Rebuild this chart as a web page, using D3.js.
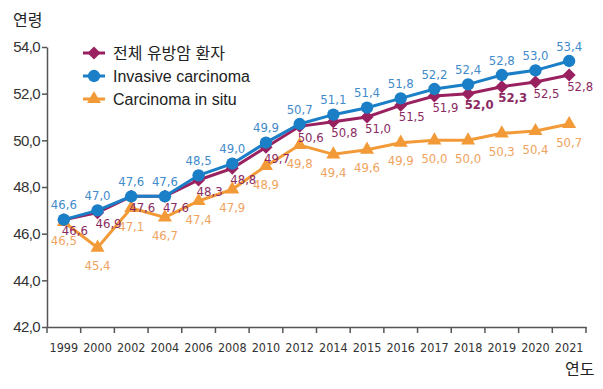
<!DOCTYPE html>
<html>
<head>
<meta charset="utf-8">
<script src="https://cdn.jsdelivr.net/npm/d3@7"></script>
<style>
  body { margin: 0; background: #fff; }
  svg { display: block; }
</style>
</head>
<body>
<svg id="canvas" width="603" height="389"></svg>
<script>
let years = ["1999","2000","2002","2004","2006","2008","2010","2012","2014","2015","2016","2017","2018","2019","2020","2021"]
let totalValues = [46.6, 46.9, 47.6, 47.6, 48.3, 48.8, 49.7, 50.6, 50.8, 51.0, 51.5, 51.9, 52.0, 52.3, 52.5, 52.8]
let invasiveValues = [46.6, 47.0, 47.6, 47.6, 48.5, 49.0, 49.9, 50.7, 51.1, 51.4, 51.8, 52.2, 52.4, 52.8, 53.0, 53.4]
let insituValues = [46.5, 45.4, 47.1, 46.7, 47.4, 47.9, 48.9, 49.8, 49.4, 49.6, 49.9, 50.0, 50.0, 50.3, 50.4, 50.7]
let boldTotal = ["2018", "2019"]
let yTicks = [42, 44, 46, 48, 50, 52, 54]
let seriesNames = ["전체 유방암 환자", "Invasive carcinoma", "Carcinoma in situ"]

let narrow = "'DejaVu Sans Condensed', 'Liberation Sans Narrow', Arial, sans-serif"
let fmt = (v) => v.toFixed(1).replace(".", ",")

let canvas = d3.select("#canvas")

let xScale = d3.scaleBand().domain(years).range([47, 586])
let yScale = d3.scaleLinear().domain([42, 54]).range([327, 47])
let cx = (d) => xScale(d) + xScale.bandwidth() / 2

// axes
let yAxis = d3.axisLeft(yScale).tickValues(yTicks).tickSizeInner(5).tickSizeOuter(0).tickFormat(fmt)
let gy = canvas.append("g").attr("transform", "translate(47,0)").call(yAxis)
gy.select(".domain").attr("stroke", "#555").attr("stroke-width", 1.5)
gy.selectAll(".tick line").attr("stroke", "#555").attr("stroke-width", 1.5)
gy.selectAll(".tick text").attr("x", -7).attr("fill", "#333")
    .style("font-family", "'Liberation Sans', Arial, sans-serif").style("font-size", "15px").style("letter-spacing", "-0.6px")

let xAxis = d3.axisBottom(xScale).tickSize(0).tickSizeOuter(0)
let gx = canvas.append("g").attr("transform", "translate(0,327)").call(xAxis)
gx.select(".domain").attr("stroke", "#555").attr("stroke-width", 1.5)
gx.selectAll(".tick text").attr("y", 16).attr("fill", "#333")
    .style("font-family", narrow).style("font-size", "12.5px")

// band-edge ticks
let edges = years.map((d) => xScale(d)).concat([xScale.range()[1]])
gx.selectAll(".edge").data(edges).enter().append("line")
    .attr("class", "edge")
    .attr("x1", (d) => d).attr("x2", (d) => d)
    .attr("y1", 0).attr("y2", 6)
    .attr("stroke", "#555").attr("stroke-width", 1.5)

canvas.append("text").attr("x", 13).attr("y", 26).text("연령")
    .attr("fill", "#222").style("font-family", "'Noto Sans CJK KR', sans-serif").style("font-size", "16px")
canvas.append("text").attr("x", 565).attr("y", 375).text("연도")
    .attr("fill", "#222").style("font-family", "'Noto Sans CJK KR', sans-serif").style("font-size", "16px")

let series = [
    { name: seriesNames[2], values: insituValues, color: "#f39a38", label: "#f0a35e", shape: d3.symbolTriangle, size: 85, rot: 0, dx: 0, dy: 18 },
    { name: seriesNames[0], values: totalValues, color: "#9a2160", label: "#8b2a62", shape: d3.symbolSquare, size: 85, rot: 45, dx: 11, dy: 11 },
    { name: seriesNames[1], values: invasiveValues, color: "#1a7fc6", label: "#3f8bcb", shape: d3.symbolCircle, size: 120, rot: 0, dx: 0, dy: -15 }
]

let line = d3.line().x((d) => cx(d.year)).y((d) => yScale(d.value))

series.forEach((s) => {
    let pts = years.map((y, i) => ({ year: y, value: s.values[i] }))
    canvas.append("path").datum(pts)
        .attr("d", line).attr("fill", "none")
        .attr("stroke", s.color).attr("stroke-width", 3)
    canvas.selectAll(null).data(pts).enter().append("path")
        .attr("d", d3.symbol().type(s.shape).size(s.size))
        .attr("transform", (d) => "translate(" + cx(d.year) + "," + yScale(d.value) + ") rotate(" + s.rot + ")")
        .attr("fill", s.color)
})

series.forEach((s) => {
    let pts = years.map((y, i) => ({ year: y, value: s.values[i] }))
    canvas.selectAll(null).data(pts).enter().append("text")
        .attr("x", (d) => cx(d.year) + s.dx)
        .attr("y", (d) => yScale(d.value) + s.dy)
        .attr("dy", "0.35em")
        .attr("text-anchor", "middle")
        .attr("fill", s.label)
        .style("font-family", narrow)
        .style("font-size", "13px")
        .style("font-weight", (d) => s.name === seriesNames[0] && boldTotal.includes(d.year) ? "bold" : "normal")
        .text((d) => fmt(d.value))
})

// legend
let legendOrder = [series[1], series[2], series[0]]
let legend = canvas.append("g").attr("transform", "translate(83,53)")
legendOrder.forEach((s, i) => {
    let row = legend.append("g").attr("transform", "translate(0," + (i * 23) + ")")
    row.append("line").attr("x1", 0).attr("x2", 22).attr("stroke", s.color).attr("stroke-width", 3)
    row.append("path").attr("d", d3.symbol().type(s.shape).size(s.size))
        .attr("transform", "translate(11,0) rotate(" + s.rot + ")").attr("fill", s.color)
    row.append("text").attr("x", 30).attr("dy", "0.35em").text(s.name).attr("fill", "#222")
        .style("font-family", "'Liberation Sans', 'Noto Sans CJK KR', sans-serif").style("font-size", "16px")
})
</script>
</body>
</html>
